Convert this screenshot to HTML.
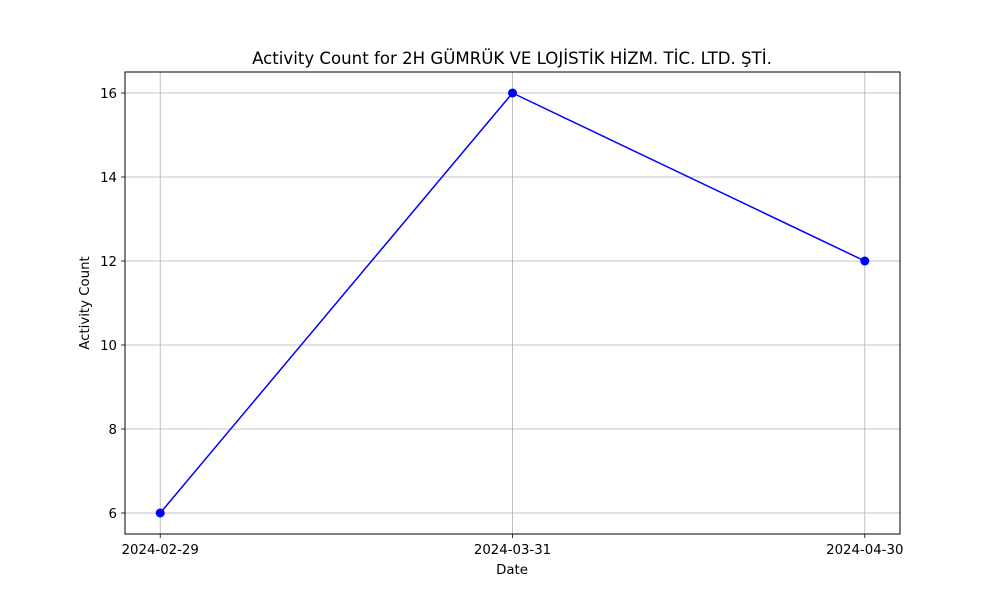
<!DOCTYPE html>
<html><head><meta charset="utf-8"><style>
body{margin:0;background:#fff;}
svg text{font-family:"DejaVu Sans","Liberation Sans",sans-serif;fill:#000;}
</style></head><body>
<svg id="chart" width="1000" height="600" xmlns="http://www.w3.org/2000/svg">
<rect width="1000" height="600" fill="#fff"/>
<text x="512" y="64" font-size="16.6" text-anchor="middle">Activity Count for 2H GÜMRÜK VE LOJİSTİK HİZM. TİC. LTD. ŞTİ.</text>
<g id="grid"></g>
<g id="ticks"></g>
<g id="series"></g>
<rect x="125" y="72" width="775" height="462" fill="none" stroke="#000" stroke-width="1"/>
<text x="512" y="574" font-size="13.3" text-anchor="middle">Date</text>
<text x="89" y="303" font-size="13.3" text-anchor="middle" transform="rotate(-90 89 303)">Activity Count</text>
</svg>
<script>
const categories = ["2024-02-29","2024-03-31","2024-04-30"];
const counts = [6, 16, 12];
const yTicks = [6, 8, 10, 12, 14, 16];

const L=125,R=900,T=72,B=534;
const xMin=-0.1,xMax=categories.length-1+0.1,yMin=5.5,yMax=16.5;
const xs=i=>L+(i-xMin)/(xMax-xMin)*(R-L);
const ys=v=>B-(v-yMin)/(yMax-yMin)*(B-T);
const NS="http://www.w3.org/2000/svg";
function mk(tag,attrs,parent){const e=document.createElementNS(NS,tag);for(const k in attrs)e.setAttribute(k,attrs[k]);document.getElementById(parent).appendChild(e);return e;}

categories.forEach((c,i)=>{
  const x=xs(i);
  const g=mk('line',{x1:x,x2:x,y1:T,y2:B,stroke:'#b0b0b0','stroke-width':0.8},'grid');
  
  
  const t=mk('line',{x1:x,x2:x,y1:B,y2:B+4,stroke:'#000','stroke-width':0.8},'ticks');
  
  
  const l=mk('text',{x:x,y:B+20,'font-size':13.3,'text-anchor':'middle'},'ticks');
  l.textContent=c;
  
  
});
yTicks.forEach(v=>{
  const y=ys(v);
  const g=mk('line',{x1:L,x2:R,y1:y,y2:y,stroke:'#b0b0b0','stroke-width':0.8},'grid');
  
  
  const t=mk('line',{x1:L-4,x2:L,y1:y,y2:y,stroke:'#000','stroke-width':0.8},'ticks');
  
  
  const l=mk('text',{x:L-8,y:y+5,'font-size':13.3,'text-anchor':'end'},'ticks');
  l.textContent=v;
  
  
});
const pts=counts.map((v,i)=>xs(i)+','+ys(v)).join(' ');
const line=mk('polyline',{points:pts,fill:'none',stroke:'#0000ff','stroke-width':1.5},'series');


counts.forEach((v,i)=>{
  const c=mk('circle',{cx:xs(i),cy:ys(v),r:4.5,fill:'#0000ff'},'series');
  
  
});
</script>
</body></html>
